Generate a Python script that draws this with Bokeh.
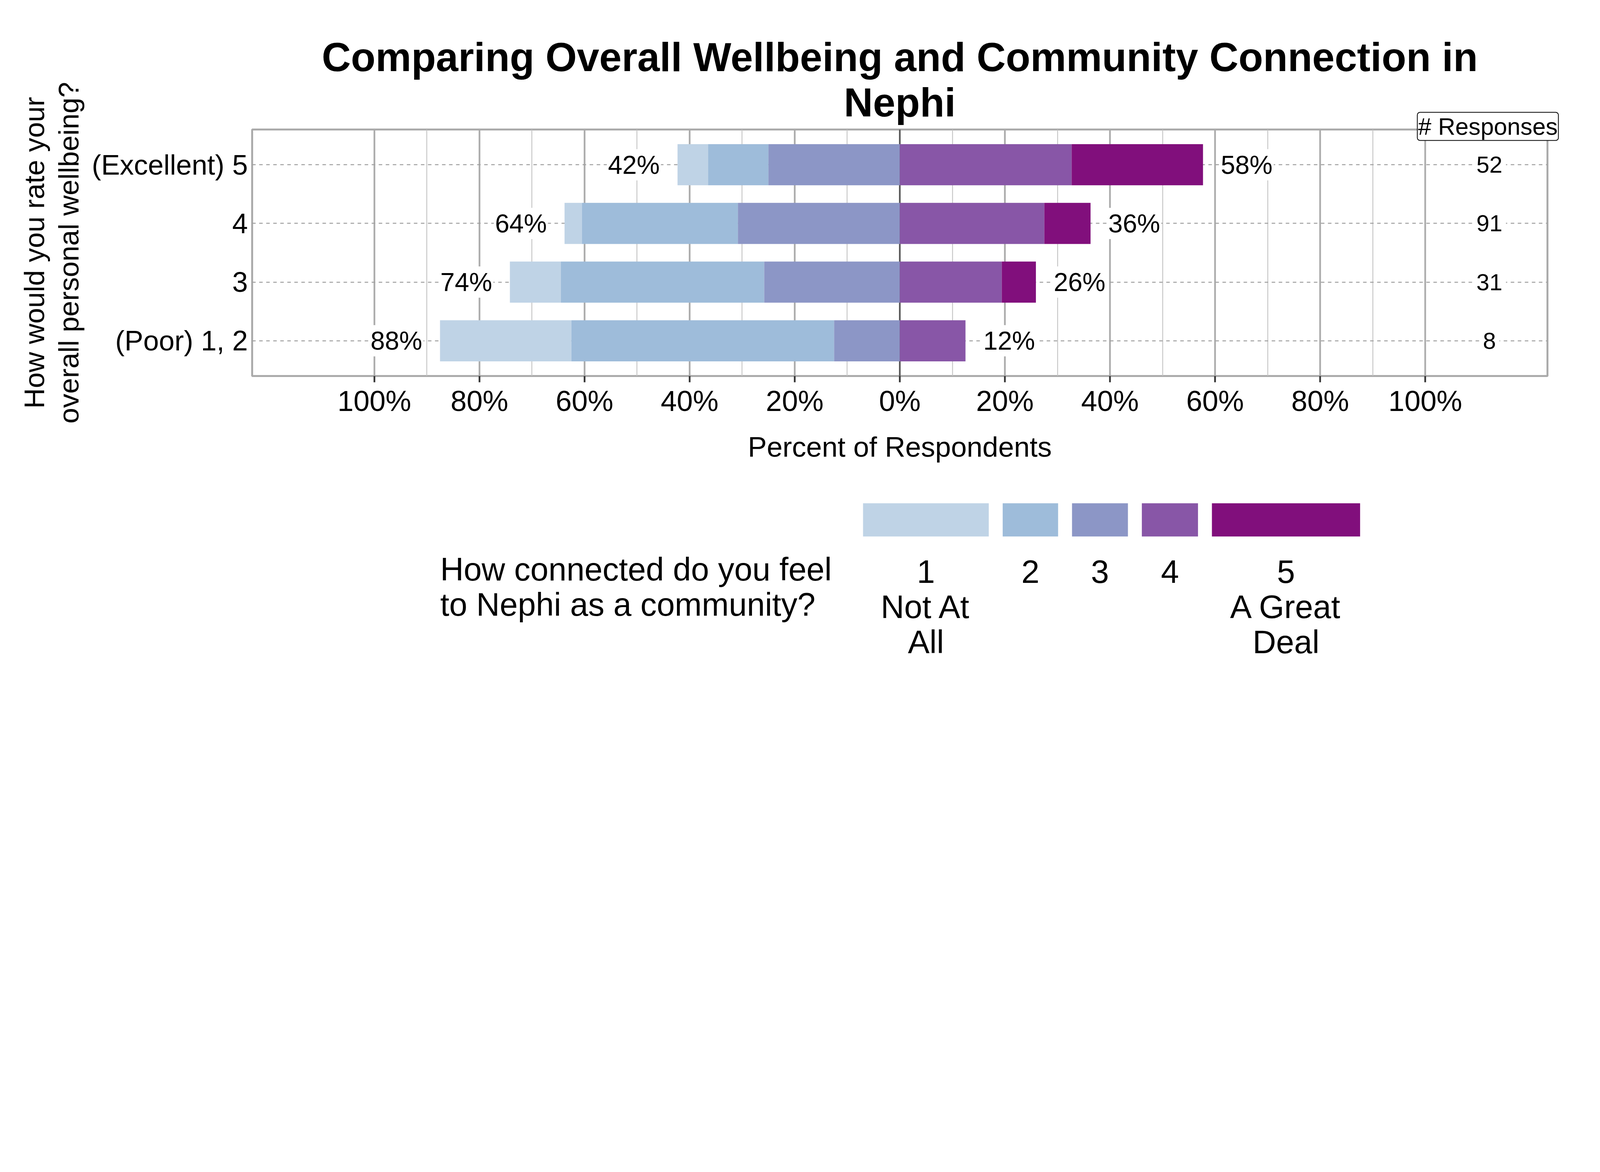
import numpy as np
from bokeh.plotting import figure
from bokeh.models import ColumnDataSource, Range1d, FixedTicker, Span, Title
from bokeh.layouts import column
from bokeh.embed import file_html
from bokeh.resources import INLINE
from bokeh.core.properties import value

FONT = "Liberation Sans"

# ---------------- data ----------------
title_lines = ["Comparing Overall Wellbeing and Community Connection in", "Nephi"]
y_title = "How would you rate your\noverall personal wellbeing?"
x_title = "Percent of Respondents"
legend_title_lines = ["How connected do you feel", "to Nephi as a community?"]
legend_labels = ["1", "2", "3", "4", "5"]
legend_sub_1 = ["Not At", "", "", "", "A Great"]
legend_sub_2 = ["All", "", "", "", "Deal"]
colors = ["#BFD3E6", "#9EBCDA", "#8C96C6", "#8856A7", "#810F7C"]

categories = ["(Excellent) 5", "4", "3", "(Poor) 1, 2"]   # top to bottom
pct_1 = [5.8, 3.3, 9.7, 25.0]
pct_2 = [11.5, 29.7, 38.7, 50.0]
pct_3 = [25.0, 30.8, 25.8, 12.5]
pct_4 = [32.7, 27.5, 19.4, 12.5]
pct_5 = [25.0, 8.8, 6.5, 0.0]
responses = [52, 91, 31, 8]
responses_header = "# Responses"

x_ticks = [-100, -80, -60, -40, -20, 0, 20, 40, 60, 80, 100]
x_minor = [-90, -70, -50, -30, -10, 10, 30, 50, 70, 90]
x_tick_labels = ["100%", "80%", "60%", "40%", "20%", "0%", "20%", "40%", "60%", "80%", "100%"]

# ---------------- layout (CSS px; the page is shown at 1.6 device px per CSS px) ----------------
S = 0.625


def s(v):
    return v * S


W = 4100
H_MAIN = 1220
H_LEG = 639
ML, MR, MT = 645, 139, 331
FRAME_H = 631
MB = H_MAIN - MT - FRAME_H

X0, X1 = -123.25, 123.25
n = len(categories)
Y0, Y1 = 0.4, n + 0.6
COUNT_X = 112.2
BAR_H = 0.7

ypos = [n - i for i in range(n)]
segs = np.array([pct_1, pct_2, pct_3, pct_4, pct_5], dtype=float)
neg = segs[:3].sum(axis=0)
pos = segs[3:].sum(axis=0)
starts = -neg
cum = np.vstack([np.zeros(n), np.cumsum(segs, axis=0)])

p = figure(width=W, height=H_MAIN,
           x_range=Range1d(X0, X1), y_range=Range1d(Y0, Y1),
           output_backend="svg", toolbar_location=None,
           min_border_left=ML, min_border_right=MR,
           min_border_top=MT, min_border_bottom=MB)
p.background_fill_color = "white"
p.border_fill_color = "white"
p.outline_line_color = "#ABABAB"
p.outline_line_width = s(8)

# grids
xt = FixedTicker(ticks=x_ticks, minor_ticks=x_minor)
yt = FixedTicker(ticks=ypos)
p.xaxis.ticker = xt
p.xgrid.ticker = xt
p.yaxis.ticker = yt
p.ygrid.ticker = yt
p.xgrid.grid_line_color = "#ABABAB"
p.xgrid.grid_line_width = s(7)
p.xgrid.minor_grid_line_color = "#C2C2C2"
p.xgrid.minor_grid_line_width = s(3.5)
p.ygrid.grid_line_color = "#A0A0A0"
p.ygrid.grid_line_width = s(4)
p.ygrid.grid_line_dash = "9 9"

p.add_layout(Span(location=0, dimension="height", line_color="#555555",
                  line_width=s(6), level="underlay"))

# bars
for k in range(5):
    src = ColumnDataSource(dict(y=ypos, left=starts + cum[k], right=starts + cum[k + 1]))
    p.hbar(y="y", left="left", right="right", height=BAR_H, source=src,
           fill_color=colors[k], line_color=None)

# percent labels
lsrc = ColumnDataSource(dict(x=-neg, y=ypos, t=[f"{round(v)}%" for v in neg]))
rsrc = ColumnDataSource(dict(x=pos, y=ypos, t=[f"{round(v)}%" for v in pos]))
common = dict(text_font=value(FONT), text_font_size=f"{s(106):.1f}px", text_color="black",
              text_baseline="middle", background_fill_color="white", padding=3)
p.text(x="x", y="y", text="t", source=lsrc, text_align="right", x_offset=-s(68), **common)
p.text(x="x", y="y", text="t", source=rsrc, text_align="left", x_offset=s(68), **common)

csrc = ColumnDataSource(dict(x=[COUNT_X] * n, y=ypos, t=[str(v) for v in responses]))
p.text(x="x", y="y", text="t", source=csrc, text_align="center", text_baseline="middle",
       text_font=value(FONT), text_font_size=f"{s(96):.1f}px", text_color="black",
       background_fill_color="white", padding=9)

# axes
p.xaxis.major_label_overrides = {t: l for t, l in zip(x_ticks, x_tick_labels)}
p.yaxis.major_label_overrides = {y: c for y, c in zip(ypos, categories)}
for ax in (p.xaxis[0], p.yaxis[0]):
    ax.axis_line_color = None
    ax.minor_tick_in = 0
    ax.minor_tick_out = 0
    ax.major_label_text_font = FONT
    ax.major_label_text_color = "black"
    ax.axis_label_text_font = FONT
    ax.axis_label_text_font_style = "normal"
    ax.axis_label_text_color = "black"
    ax.axis_label_text_font_size = f"{s(116):.1f}px"
    ax.axis_label_text_line_height = 1.09

p.xaxis.major_tick_in = 0
p.xaxis.major_tick_out = round(s(25))
p.xaxis.major_tick_line_color = "#333333"
p.xaxis.major_tick_line_width = s(7)
p.xaxis.major_label_text_font_size = f"{s(118):.1f}px"
p.xaxis.major_label_standoff = round(s(9))
p.xaxis.axis_label = x_title
p.xaxis.axis_label_standoff = round(s(51))

p.yaxis.major_tick_in = 0
p.yaxis.major_tick_out = 0
p.yaxis.major_label_text_font_size = f"{s(115):.1f}px"
p.yaxis.major_label_standoff = round(s(18))
p.yaxis.axis_label = y_title
p.yaxis.axis_label_standoff = round(s(25))

# titles: added ones stack outward from the plot; p.title is the outermost
# 1) "# Responses" header box sitting on the top edge of the panel, over the counts column
p.add_layout(Title(text=responses_header, align="right", offset=-28,
                   text_font=FONT, text_font_size=f"{s(98):.1f}px", text_font_style="normal",
                   text_color="black", background_fill_color="white",
                   border_line_color="black", border_line_width=2, border_radius=7,
                   padding=2, standoff=-56), "above")
# 2) second title line
p.add_layout(Title(text=title_lines[1], align="center", text_font=FONT,
                   text_font_size=f"{s(165):.1f}px", text_font_style="bold",
                   text_color="black", standoff=-13), "above")
# 3) first title line (outermost)
p.title.text = title_lines[0]
p.title.align = "center"
p.title.text_font = FONT
p.title.text_font_size = f"{s(165):.1f}px"
p.title.text_font_style = "bold"
p.title.text_color = "black"
p.title.standoff = 12

# ---------------- legend figure (coordinates in reference device px) ----------------
LX0, LX1 = (ML + 8) / S, (W - MR + 8) / S
LY_TOP, LY_BOT = (H_MAIN + 8) / S, (H_MAIN + H_LEG + 8) / S
q = figure(width=W, height=H_LEG, x_range=Range1d(LX0, LX1), y_range=Range1d(LY_BOT, LY_TOP),
           output_backend="svg", toolbar_location=None,
           x_axis_location=None, y_axis_location=None,
           min_border_left=ML, min_border_right=MR, min_border_top=0, min_border_bottom=0)
q.outline_line_color = None
q.xgrid.visible = False
q.ygrid.visible = False
q.background_fill_color = "white"
q.border_fill_color = "white"

key_x0 = 3547
key_gap = 57
key_widths = [515, 227, 229, 230, 607]
key_top, key_bottom = 2073, 2209
lab_baselines = [2352, 2497, 2641]
leg_title_x = 1815
leg_title_baselines = [2344, 2488]

lefts, rights = [], []
xx = key_x0
for w in key_widths:
    lefts.append(xx)
    rights.append(xx + w)
    xx += w + key_gap
centers = [(a + b) / 2 for a, b in zip(lefts, rights)]
q.quad(left=lefts, right=rights, top=[key_top] * 5, bottom=[key_bottom] * 5,
       fill_color=colors, line_color=None)
leg_font = dict(text_font=value(FONT), text_font_size=f"{s(133):.1f}px", text_color="black",
                text_baseline="alphabetic")
for texts, bl in zip([legend_labels, legend_sub_1, legend_sub_2], lab_baselines):
    q.text(x=centers, y=[bl] * 5, text=texts, text_align="center", **leg_font)
q.text(x=[leg_title_x] * 2, y=leg_title_baselines, text=legend_title_lines,
       text_align="left", **leg_font)

layout = column(p, q, spacing=0)
open("out.html", "w").write(file_html(layout, INLINE))
